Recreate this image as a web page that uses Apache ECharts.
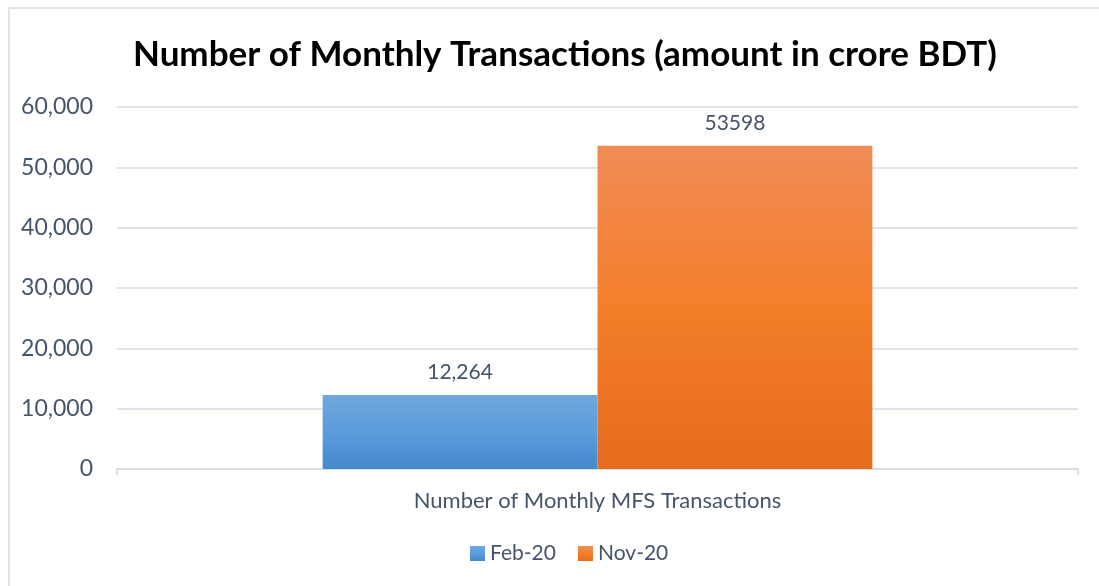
<!DOCTYPE html>
<html>
<head>
<meta charset="utf-8">
<script src="https://cdn.jsdelivr.net/npm/echarts@6/dist/echarts.min.js"></script>
<style>
	html, body { margin: 0; padding: 0; background: #fff; }
	#chart { width: 1099px; height: 586px; }
</style>
</head>
<body>
<div id="chart"></div>
<script>
var categories = ['Number of Monthly MFS Transactions'];
var seriesNames = ['Feb-20', 'Nov-20'];
var feb20 = [12264];
var nov20 = [53598];
var yTicks = { min: 0, max: 60000, interval: 10000 };

var myChart = echarts.init(document.getElementById('chart'));
var fontFam = 'Lato';
var textColor = '#44546a';

var option = {
	animation: false,
	title: {
		text: 'Number of Monthly Transactions (amount in crore BDT)',
		left: 128,
		top: 32,
		textStyle: {
			fontFamily: fontFam,
			fontWeight: 'bold',
			fontSize: 35,
			color: '#000'
		}
	},
	graphic: [{
		type: 'polyline',
		shape: { points: [[9, 600], [9, 8], [1099, 8]] },
		style: { stroke: '#dfe3ea', lineWidth: 2, fill: null }
	}],
	legend: {
		data: seriesNames,
		bottom: 17,
		left: 465,
		itemWidth: 15,
		itemHeight: 15,
		itemGap: 22,
		icon: 'rect',
		textStyle: { fontFamily: fontFam, fontSize: 21, color: textColor }
	},
	grid: {
		left: 117,
		right: 21,
		top: 107,
		bottom: 117
	},
	xAxis: {
		type: 'category',
		data: categories,
		axisLine: { lineStyle: { color: '#d9dde4', width: 2 } },
		axisTick: { show: true, length: 6, lineStyle: { color: '#d9dde4', width: 2 } },
		axisLabel: { fontFamily: fontFam, fontSize: 22, color: textColor, margin: 21 }
	},
	yAxis: {
		type: 'value',
		min: yTicks.min,
		max: yTicks.max,
		interval: yTicks.interval,
		axisLine: { show: false },
		axisTick: { show: false },
		splitLine: { lineStyle: { color: '#dfe3ea', width: 2 } },
		axisLabel: {
			fontFamily: fontFam,
			fontSize: 23,
			color: textColor,
			margin: 24,
			formatter: function(v) { return v.toLocaleString('en-US'); }
		}
	},
	series: [{
		name: seriesNames[0],
		type: 'bar',
		data: feb20,
		barGap: '0%',
		barCategoryGap: '42.8%',
		itemStyle: {
			color: new echarts.graphic.LinearGradient(0, 0, 0, 1, [
				{ offset: 0, color: '#71a7dd' },
				{ offset: 0.5, color: '#5a9cdc' },
				{ offset: 1, color: '#4689cb' }
			])
		},
		label: {
			show: true,
			position: 'top',
			distance: 12,
			fontFamily: fontFam,
			fontSize: 21,
			color: textColor,
			formatter: function(p) { return p.value.toLocaleString('en-US'); }
		}
	}, {
		name: seriesNames[1],
		type: 'bar',
		data: nov20,
		barGap: '0%',
		barCategoryGap: '42.8%',
		itemStyle: {
			color: new echarts.graphic.LinearGradient(0, 0, 0, 1, [
				{ offset: 0, color: '#f08c56' },
				{ offset: 0.5, color: '#f47e2a' },
				{ offset: 1, color: '#e56b1d' }
			])
		},
		label: {
			show: true,
			position: 'top',
			distance: 12,
			fontFamily: fontFam,
			fontSize: 21,
			color: textColor,
			formatter: '{c}'
		}
	}]
};
myChart.setOption(option);
</script>
</body>
</html>
